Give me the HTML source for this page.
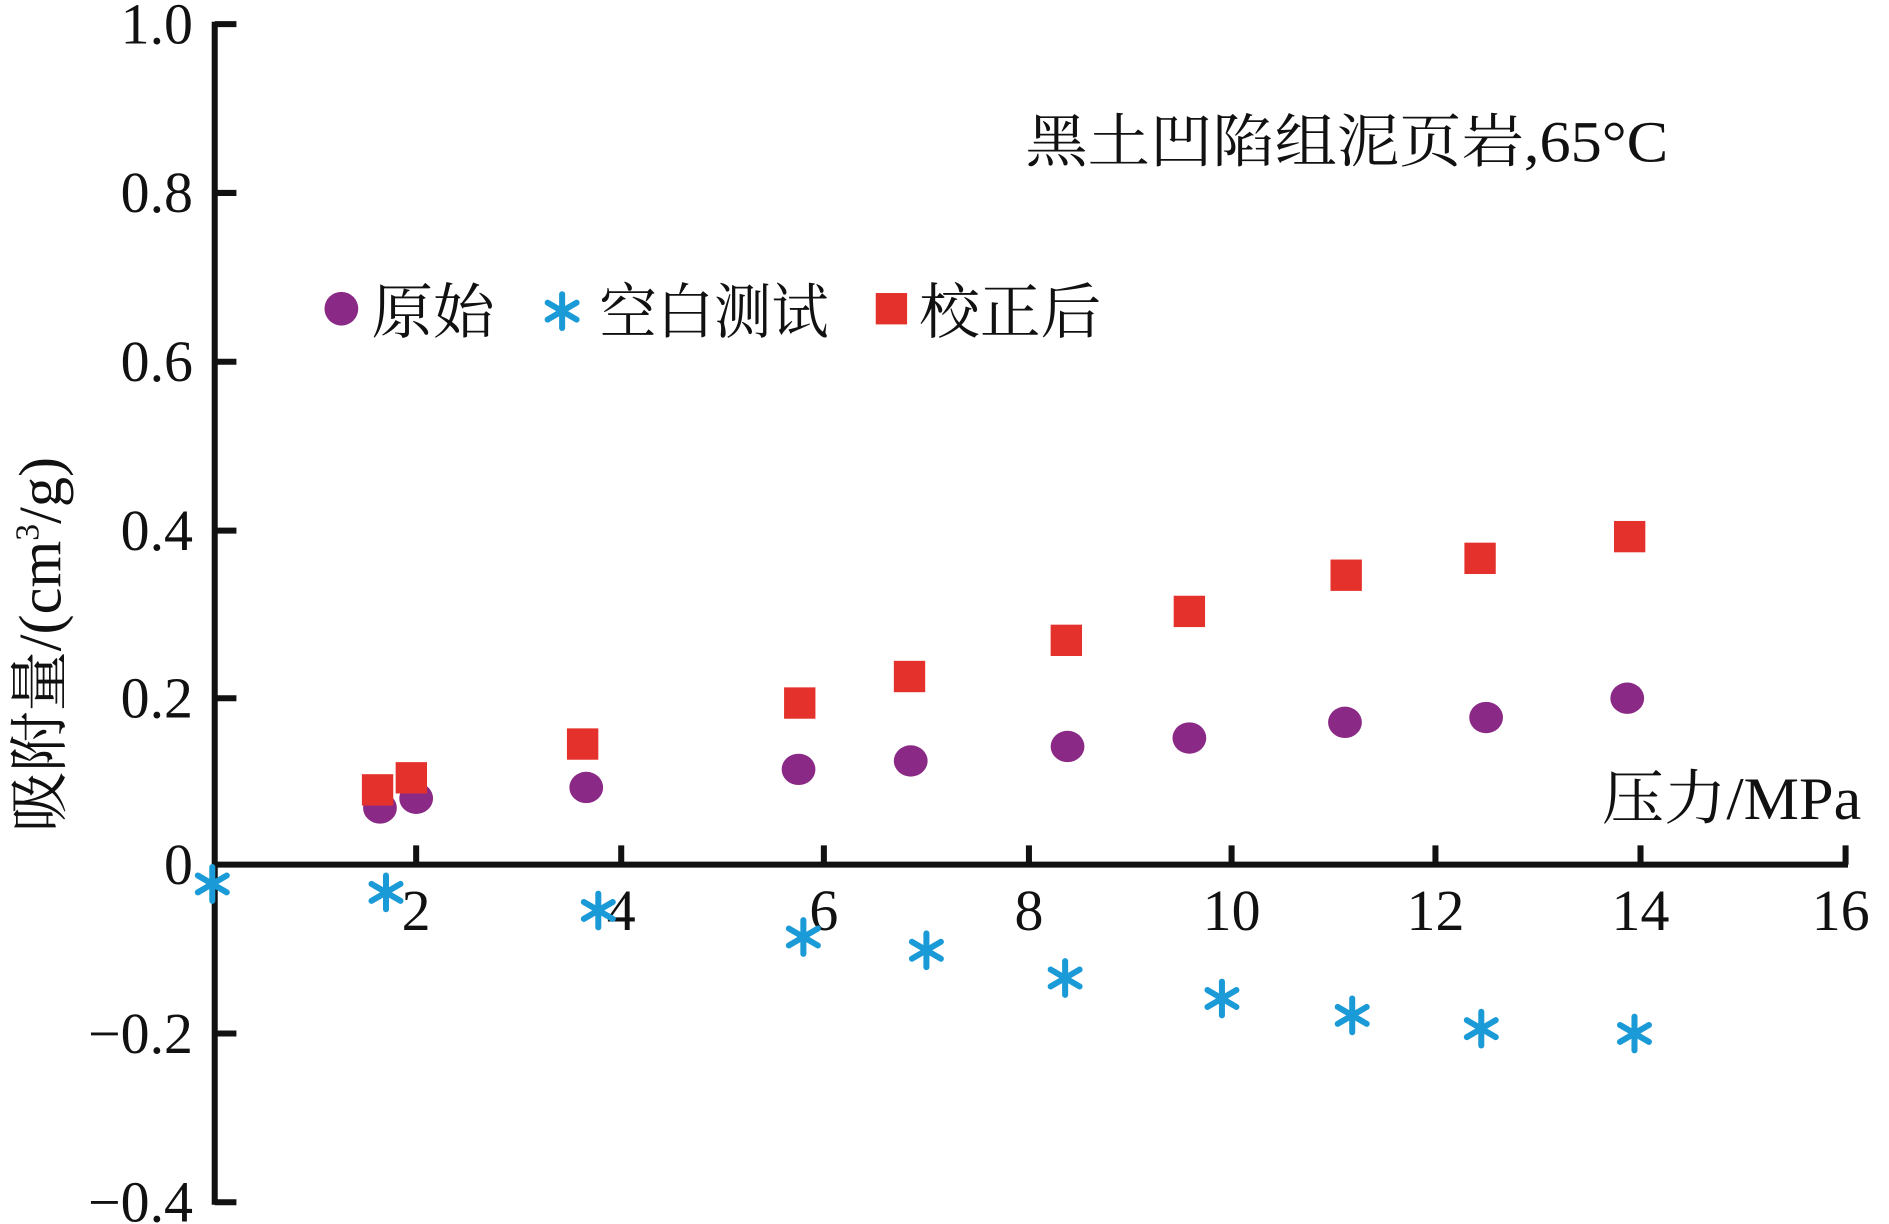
<!DOCTYPE html>
<html><head><meta charset="utf-8"><style>html,body{margin:0;padding:0;background:#fff}svg{display:block}</style></head><body>
<svg width="1889" height="1224" viewBox="0 0 1566 1015" preserveAspectRatio="none" xmlns="http://www.w3.org/2000/svg" font-family="'Liberation Serif','Noto Serif CJK SC',serif">
<defs>
<g id="ast" stroke="#1a9ad6" stroke-width="5" stroke-linecap="round">
<line x1="0" y1="-14" x2="0" y2="14"/><line x1="-12" y1="-7" x2="12" y2="7"/><line x1="-12" y1="7" x2="12" y2="-7"/>
</g>
</defs>
<g stroke="#111" stroke-width="5" fill="none">
<line x1="178" y1="18" x2="178" y2="999"/>
<line x1="176" y1="717" x2="1532" y2="717"/>
<path d="M178 20h18M178 160h18M178 300h18M178 440h18M178 579h18M178 857h18M178 997h18"/>
<path d="M345 717v-16M515 717v-16M683 717v-16M853 717v-16M1021 717v-16M1190 717v-16M1360 717v-16M1530 717v-16"/>
</g>
<g font-size="48" fill="#111" text-anchor="end">
<text x="160" y="36">1.0</text><text x="160" y="176">0.8</text><text x="160" y="316">0.6</text><text x="160" y="456">0.4</text><text x="160" y="595">0.2</text><text x="160" y="733">0</text><text x="160" y="873">−0.2</text><text x="160" y="1013">−0.4</text>
</g>
<g font-size="48" fill="#111" text-anchor="middle">
<text x="345" y="771">2</text><text x="515" y="771">4</text><text x="683" y="771">6</text><text x="853" y="771">8</text><text x="1021" y="771">10</text><text x="1190" y="771">12</text><text x="1360" y="771">14</text><text x="1526" y="771">16</text>
</g>
<text x="850" y="134" font-size="48" fill="#111" textLength="533" lengthAdjust="spacingAndGlyphs">黑土凹陷组泥页岩,65°C</text>
<text x="1328" y="679" font-size="50" fill="#111" textLength="215" lengthAdjust="spacingAndGlyphs">压力/MPa</text>
<text transform="translate(50,690) rotate(-90)" font-size="50" fill="#111">吸附量/(cm<tspan font-size="28" dy="-18">3</tspan><tspan dy="18">/g)</tspan></text>
<circle cx="283" cy="256" r="14" fill="#8b2a86"/>
<text x="308" y="276" font-size="50" fill="#111" textLength="102" lengthAdjust="spacingAndGlyphs">原始</text>
<use href="#ast" x="466" y="258"/>
<text x="497" y="276" font-size="50" fill="#111" textLength="190" lengthAdjust="spacingAndGlyphs">空白测试</text>
<rect x="726" y="243" width="26" height="26" fill="#e5312b"/>
<text x="762" y="276" font-size="50" fill="#111" textLength="151" lengthAdjust="spacingAndGlyphs">校正后</text>
<g fill="#8b2a86">
<ellipse cx="315" cy="670" rx="14" ry="13"/><ellipse cx="345" cy="662" rx="14" ry="13"/><ellipse cx="486" cy="653" rx="14" ry="13"/><ellipse cx="662" cy="638" rx="14" ry="13"/><ellipse cx="755" cy="631" rx="14" ry="13"/><ellipse cx="885" cy="619" rx="14" ry="13"/><ellipse cx="986" cy="612" rx="14" ry="13"/><ellipse cx="1115" cy="599" rx="14" ry="13"/><ellipse cx="1232" cy="595" rx="14" ry="13"/><ellipse cx="1349" cy="579" rx="14" ry="13"/>
</g>
<g fill="#e5312b">
<rect x="300" y="642" width="26" height="26"/><rect x="328" y="632" width="26" height="26"/><rect x="470" y="604" width="26" height="26"/><rect x="650" y="570" width="26" height="26"/><rect x="741" y="548" width="26" height="26"/><rect x="871" y="518" width="26" height="26"/><rect x="973" y="494" width="26" height="26"/><rect x="1103" y="464" width="26" height="26"/><rect x="1214" y="450" width="26" height="26"/><rect x="1338" y="432" width="26" height="26"/>
</g>
<use href="#ast" x="176" y="733"/><use href="#ast" x="320" y="740"/><use href="#ast" x="496" y="755"/><use href="#ast" x="666" y="777"/><use href="#ast" x="768" y="788"/><use href="#ast" x="883" y="811"/><use href="#ast" x="1013" y="828"/><use href="#ast" x="1121" y="842"/><use href="#ast" x="1228" y="853"/><use href="#ast" x="1355" y="857"/>
</svg>
</body></html>
